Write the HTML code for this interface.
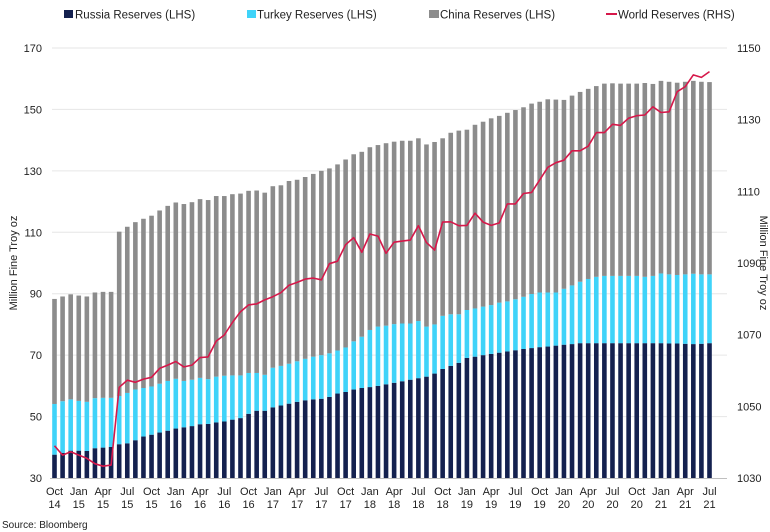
<!DOCTYPE html>
<html><head><meta charset="utf-8">
<style>
body{margin:0;background:#fff;}
svg{display:block;font-family:"Liberation Sans",Arial,sans-serif;}
</style></head>
<body>
<svg id="chart" width="770" height="532" viewBox="0 0 770 532" xmlns="http://www.w3.org/2000/svg">
<g font-size="11.5" fill="#222">
  <rect x="64" y="10" width="9" height="8" fill="#14214f"/>
  <text x="75" y="18.5">Russia Reserves (LHS)</text>
  <rect x="247" y="10" width="9" height="8" fill="#3fd3f9"/>
  <text x="257" y="18.5">Turkey Reserves (LHS)</text>
  <rect x="429" y="10" width="10" height="8" fill="#8c8c8c"/>
  <text x="440" y="18.5">China Reserves (LHS)</text>
  <line x1="606" y1="14" x2="617" y2="14" stroke="#d6184a" stroke-width="2"/>
  <text x="618" y="18.5">World Reserves (RHS)</text>
</g>
<g id="grid"></g>
<g id="bars"></g>
<g id="line"></g>
<g id="axes" font-size="11" fill="#222"></g>
<text x="17" y="263" font-size="11" fill="#222" transform="rotate(-90 17 263)" text-anchor="middle">Million Fine Troy oz</text>
<text x="760" y="263" font-size="11" fill="#222" transform="rotate(90 760 263)" text-anchor="middle">Million Fine Troy oz</text>
<text x="2" y="528" font-size="10" fill="#222">Source: Bloomberg</text>
</svg>
<script>
const russia=[37.6,38.2,38.9,38.9,38.8,39.7,39.9,40.1,41.0,41.3,42.3,43.5,44.1,44.8,45.4,46.1,46.5,46.9,47.5,47.6,48.1,48.4,49.0,49.5,50.9,51.9,51.9,53.0,
53.6,54.2,54.8,55.3,55.6,55.8,56.4,57.5,58.0,58.8,59.3,
59.6,60,60.5,61,61.5,62,62.5,63,64,65.5,66.5,67.5,
69.1,69.5,70.0,70.4,70.8,71.2,71.6,72,72.3,72.6,72.8,73.1,
73.4,73.6,73.9,73.9,73.9,73.9,73.9,73.9,73.9,73.9,73.9,73.9,
73.9,73.8,73.8,73.7,73.6,73.7,73.9];
const turkeyTop=[54.1,55.0,55.6,55.1,54.8,56.0,56.1,56.1,56.7,57.7,58.8,59.3,59.8,60.7,61.6,62.3,61.6,62.0,62.6,62.2,63.0,63.3,63.4,63.4,64.2,64.2,63.6,65.9,
66.5,67.2,68,68.8,69.5,70,70.6,71.5,72.5,74.5,76,
78.2,79.3,79.6,80.1,80.3,80.3,81.1,79.3,80.0,82.8,83.3,83.3,
84.7,85.2,85.8,86.3,87.1,87.5,88.2,89.0,89.9,90.4,90.4,90.4,
91.6,92.7,93.9,94.8,95.5,95.8,95.8,95.8,95.8,95.8,95.5,95.8,
96.6,96.3,96.1,96.3,96.5,96.3,96.3];
const chinaTop=[88.3,89.1,89.8,89.4,89.1,90.4,90.6,90.6,
110.2,111.8,113.3,114.4,115.4,117.1,118.6,119.7,119.2,119.8,120.8,120.5,121.8,121.8,122.4,122.6,123.5,123.6,122.9,125.0,125.3,126.7,127.1,128.0,129.0,130.0,130.8,132.1,133.7,135.4,136.2,
137.7,138.4,139.0,139.5,139.8,139.8,140.6,138.6,139.4,140.6,142.4,143.1,
143.4,145.0,146.0,147.1,147.9,148.9,149.8,150.7,151.9,152.5,153.3,153.2,
153.1,154.5,155.7,156.7,157.6,158.4,158.5,158.4,158.4,158.4,158.6,158.3,
159.3,159.0,158.7,159.0,159.3,159.0,158.9];
const world=[1039.0,1036.4,1037.3,1036.4,1035.5,1034.0,1033.3,1033.6,1055.3,1057.3,1056.7,1057.6,1058.1,1060.6,1061.5,1062.5,1061,1061.5,1063.6,1063.8,1068.2,1069.9,1073.4,1076.4,1078.3,1078.6,1079.7,1080.6,1081.7,
1083.8,1084.6,1085.5,1085.8,1085.3,1089.8,1090.5,1095.1,1097.1,1093.0,
1098.1,1097.5,1092.7,1095.8,1096.1,1096.4,1100.4,1095.7,1093.6,1101.4,1101.5,1100.4,1100.5,1103.9,1101.4,1100.5,1101.2,1106.5,1106.5,1109.4,1109.7,1113.2,1116.7,1118,1118.7,1121.3,1121.3,1122.6,1126.4,1126.4,1128.7,1128.4,1130.4,1131.1,1131.3,1133.6,1132,1132.2,1137.8,1139.2,1142.5,1141.8,1143.4];
const leftTicks=[30,50,70,90,110,130,150,170];
const rightTicks=[1030,1050,1070,1090,1110,1130,1150];
const xLabelMonths=["Oct","Jan","Apr","Jul"];
const monthNames=["Jan","Feb","Mar","Apr","May","Jun","Jul","Aug","Sep","Oct","Nov","Dec"];

const NS="http://www.w3.org/2000/svg";
const pTop=48,pBottom=478,pLeft=50,pRight=727;
const yL=v=>pBottom-(v-30)*(pBottom-pTop)/140;
const yR=v=>pBottom-(v-1030)*(pBottom-pTop)/120;
const nBars=chinaTop.length;
const xC=i=>54.5+i*(709.5-54.5)/(nBars-1);
const bw=4.6;
function mk(tag,attrs,parent){const e=document.createElementNS(NS,tag);for(const k in attrs)e.setAttribute(k,attrs[k]);parent.appendChild(e);return e;}
const gridG=document.getElementById('grid'),barsG=document.getElementById('bars'),axesG=document.getElementById('axes'),lineG=document.getElementById('line');
leftTicks.forEach(t=>{
  if(t!==30){const g=mk('line',{x1:52,x2:pRight,y1:yL(t),y2:yL(t),stroke:'#e6e6e6','stroke-width':1},gridG);
  
  }
  const tx=mk('text',{x:42,y:yL(t)+4,'text-anchor':'end'},axesG);tx.textContent=t;
  
  
});
rightTicks.forEach(t=>{
  const tx=mk('text',{x:737,y:yR(t)+4},axesG);tx.textContent=t;
  
  
});
const ax=mk('line',{x1:pLeft,x2:pRight,y1:pBottom+0.5,y2:pBottom+0.5,stroke:'#bfbfbf','stroke-width':1},axesG);


for(let i=0;i<nBars;i++){
  const x=xC(i)-bw/2;
  const r1=mk('rect',{x:x,y:yL(russia[i]),width:bw,height:pBottom-yL(russia[i]),fill:'#14214f'},barsG);
  
  
  const r2=mk('rect',{x:x,y:yL(turkeyTop[i]),width:bw,height:Math.max(0,yL(russia[i])-yL(turkeyTop[i])),fill:'#3fd3f9'},barsG);
  
  
  const r3=mk('rect',{x:x,y:yL(chinaTop[i]),width:bw,height:Math.max(0,yL(turkeyTop[i])-yL(chinaTop[i])),fill:'#8c8c8c'},barsG);
  
  
  const m=(9+i)%12, yr=14+Math.floor((9+i)/12);
  if(xLabelMonths.includes(monthNames[m])){
    const t1=mk('text',{x:xC(i),y:495,'text-anchor':'middle'},axesG);t1.textContent=monthNames[m];
    
    
    const t2=mk('text',{x:xC(i),y:508,'text-anchor':'middle'},axesG);t2.textContent=String(yr);
    
    
  }
}
const pts=world.map((v,i)=>xC(i).toFixed(1)+','+yR(v).toFixed(1)).join(' ');
const pl=mk('polyline',{points:pts,fill:'none',stroke:'#d6184a','stroke-width':1.6,'stroke-linejoin':'round'},lineG);


</script>
</body></html>
